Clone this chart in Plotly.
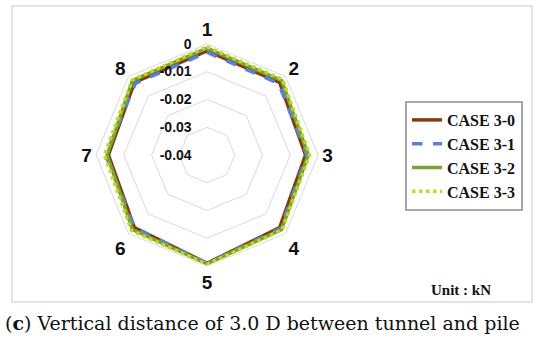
import plotly.graph_objects as go

categories = ["1", "2", "3", "4", "5", "6", "7", "8"]
series_names = ["CASE 3-0", "CASE 3-1", "CASE 3-2", "CASE 3-3"]
case_3_0 = [-0.0025, -0.003, -0.0045, -0.003, -0.001, -0.003, -0.0045, -0.003]
case_3_1 = [-0.003, -0.0035, -0.004, -0.0025, -0.001, -0.003, -0.0035, -0.0035]
case_3_2 = [-0.0015, -0.002, -0.0035, -0.002, -0.0008, -0.002, -0.004, -0.002]
case_3_3 = [-0.001, -0.0015, -0.003, -0.0018, -0.0006, -0.0015, -0.003, -0.0018]
radial_ticks = [0, -0.01, -0.02, -0.03, -0.04]
radial_ticktext = ["0", "-0.01", "-0.02", "-0.03", "-0.04"]

series_values = [case_3_0, case_3_1, case_3_2, case_3_3]
styles = [
    dict(color="#843C0C", width=3.5, dash="solid"),
    dict(color="#5B7FE0", width=3.5, dash="dash"),
    dict(color="#77A33A", width=3.5, dash="solid"),
    dict(color="#C5D820", width=3.5, dash="dot"),
]

fig = go.Figure()
for name, vals, st in zip(series_names, series_values, styles):
    fig.add_trace(go.Scatterpolar(
        r=vals + [vals[0]],
        theta=categories + [categories[0]],
        mode="lines",
        name=name,
        legendgroup=name,
        line=st,
    ))

cx, cy, R = 207, 155, 111
W, H = 550, 345
fig.update_layout(
    width=W, height=H,
    margin=dict(l=0, r=0, t=0, b=0),
    paper_bgcolor="white",
    polar=dict(
        bgcolor="white",
        gridshape="linear",
        domain=dict(x=[(cx - R) / W, (cx + R) / W], y=[1 - (cy + R) / H, 1 - (cy - R) / H]),
        angularaxis=dict(
            type="category",
            categoryarray=categories,
            rotation=90,
            direction="clockwise",
            showgrid=False,
            showline=True,
            linecolor="#D9D9D9",
            linewidth=1,
            ticks="",
            tickfont=dict(family="Liberation Sans", size=19, color="#111111", weight="bold"),
        ),
        radialaxis=dict(
            range=[-0.04, 0],
            angle=90,
            tickangle=90,
            side="counterclockwise",
            tickvals=radial_ticks,
            ticktext=radial_ticktext,
            showline=False,
            ticks="outside",
            ticklen=10,
            tickcolor="rgba(0,0,0,0)",
            gridcolor="#D9D9D9",
            gridwidth=1,
            tickfont=dict(family="Liberation Sans", size=14, color="#111111", weight="bold"),
        ),
    ),
    showlegend=True,
    legend=dict(
        x=405 / W, y=1 - 101 / H, xanchor="left", yanchor="top",
        bordercolor="#A6A6A6", borderwidth=2, bgcolor="white",
        font=dict(family="Liberation Serif", size=16, color="#111111", weight="bold"),
        tracegroupgap=0,
    ),
    shapes=[dict(type="rect", xref="paper", yref="paper",
                 x0=12 / W, x1=532 / W, y0=1 - 302 / H, y1=1 - 6 / H,
                 line=dict(color="#D9D9D9", width=1.5))],
    annotations=[
        dict(text="<b>Unit : kN</b>", x=461 / W, y=1 - 290 / H, xref="paper", yref="paper",
             xanchor="center", yanchor="middle",
             showarrow=False, font=dict(family="Liberation Serif", size=15, color="#111111")),
        dict(text="(<b>c</b>) Vertical distance of 3.0 D between tunnel and pile",
             x=262 / W, y=1 - 323 / H, xref="paper", yref="paper",
             xanchor="center", yanchor="middle",
             showarrow=False, font=dict(family="DejaVu Serif", size=19, color="#111111")),
    ],
)

fig.write_html("out.html", config={"displayModeBar": False},
               post_script="document.body.style.margin='0px';")
